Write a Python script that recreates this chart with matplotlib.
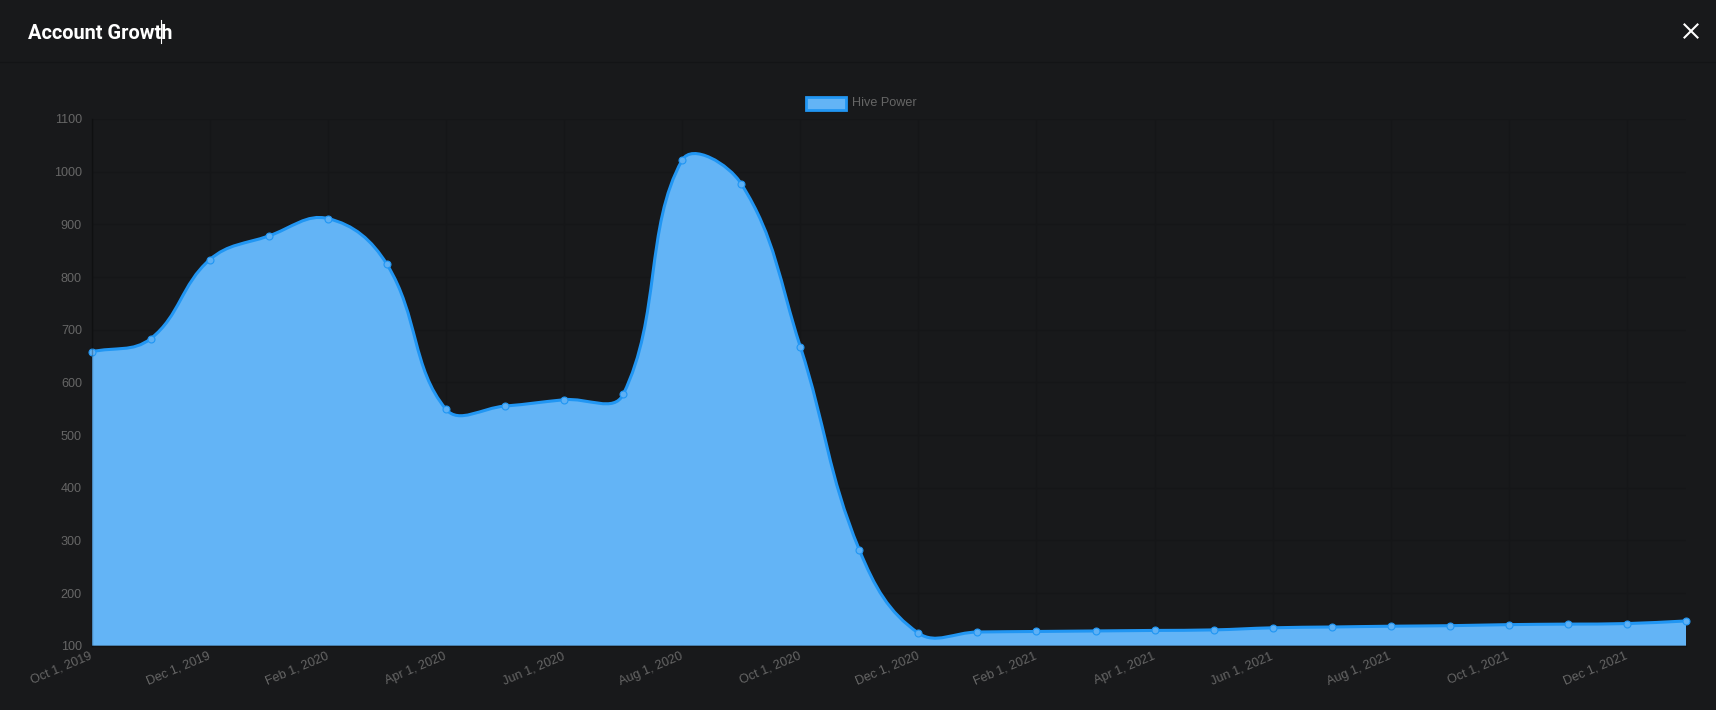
import numpy as np
import matplotlib
matplotlib.use("Agg")
import matplotlib.pyplot as plt
from matplotlib.path import Path
from matplotlib.patches import PathPatch, Rectangle
from matplotlib.lines import Line2D

# ---------------- data ----------------
months = ["Oct 1, 2019", "Nov 1, 2019", "Dec 1, 2019", "Jan 1, 2020", "Feb 1, 2020",
          "Mar 1, 2020", "Apr 1, 2020", "May 1, 2020", "Jun 1, 2020", "Jul 1, 2020",
          "Aug 1, 2020", "Sep 1, 2020", "Oct 1, 2020", "Nov 1, 2020", "Dec 1, 2020",
          "Jan 1, 2021", "Feb 1, 2021", "Mar 1, 2021", "Apr 1, 2021", "May 1, 2021",
          "Jun 1, 2021", "Jul 1, 2021", "Aug 1, 2021", "Sep 1, 2021", "Oct 1, 2021",
          "Nov 1, 2021", "Dec 1, 2021", "Jan 1, 2022"]
hive_power = [658, 683, 833, 878, 911, 824, 549, 555, 567, 577,
              1022, 977, 668, 282, 124, 126, 127, 128, 129, 130,
              134, 135.5, 137, 138, 140, 141, 142, 147]
y_ticks = [100, 200, 300, 400, 500, 600, 700, 800, 900, 1000, 1100]
series_label = "Hive Power"
title = "Account Growth"

# ---------------- style ----------------
BG = "#18191b"
GRID = "#151618"
TICK_COLOR = "#666666"
FILL = "#63b4f6"
LINE = "#2196f3"
W, H = 1716, 710

plt.rcParams["font.family"] = ["Liberation Sans", "DejaVu Sans"]

fig = plt.figure(figsize=(W / 100, H / 100), dpi=100, facecolor=BG)
left_px, right_px, top_px, bottom_px = 91.7, 1686.0, 119.0, 645.7
ax = fig.add_axes([left_px / W, 1 - bottom_px / H,
                   (right_px - left_px) / W, (bottom_px - top_px) / H])
ax.set_facecolor(BG)

x = np.arange(len(months))
y = np.array(hive_power, dtype=float)
ax.set_xlim(0, len(months) - 1)
ax.set_ylim(y_ticks[0], y_ticks[-1])

# grid
ax.set_yticks(y_ticks)
ax.set_xticks(x[::2])
ax.set_xticklabels(months[::2])
ax.grid(True, color=GRID, linewidth=1)
ax.set_axisbelow(True)
for s in ["top", "right"]:
    ax.spines[s].set_visible(False)
for s in ["left", "bottom"]:
    ax.spines[s].set_color((0, 0, 0, 0.25))
    ax.spines[s].set_linewidth(1)
    ax.spines[s].set_zorder(5)

ax.tick_params(axis="both", length=0, colors=TICK_COLOR, labelsize=9.1)
ax.tick_params(axis="y", pad=7)
ax.tick_params(axis="x", pad=7.2)
for lab in ax.get_xticklabels():
    lab.set_rotation(23)
    lab.set_ha("right")
    lab.set_va("center")
    lab.set_rotation_mode("anchor")

# ---- Chart.js-like bezier (tension 0.4) computed in pixel space ----
fig.canvas.draw()
pts = ax.transData.transform(np.column_stack([x, y]))
px, py = pts[:, 0], pts[:, 1]
bb = ax.get_window_extent()
n = len(px)
t = 0.4
cp_prev = np.zeros((n, 2))
cp_next = np.zeros((n, 2))
for i in range(n):
    p = max(i - 1, 0)
    q = min(i + 1, n - 1)
    d01 = np.hypot(px[i] - px[p], py[i] - py[p])
    d12 = np.hypot(px[q] - px[i], py[q] - py[i])
    tot = d01 + d12
    s01 = d01 / tot if tot else 0
    s12 = d12 / tot if tot else 0
    fa, fb = t * s01, t * s12
    cp_prev[i] = [px[i] - fa * (px[q] - px[p]), py[i] - fa * (py[q] - py[p])]
    cp_next[i] = [px[i] + fb * (px[q] - px[p]), py[i] + fb * (py[q] - py[p])]
for arr in (cp_prev, cp_next):
    arr[:, 0] = np.clip(arr[:, 0], bb.x0, bb.x1)
    arr[:, 1] = np.clip(arr[:, 1], bb.y0, bb.y1)

inv = ax.transData.inverted()
verts = [(x[0], y[0])]
codes = [Path.MOVETO]
for i in range(n - 1):
    c1 = inv.transform(cp_next[i])
    c2 = inv.transform(cp_prev[i + 1])
    verts += [tuple(c1), tuple(c2), (x[i + 1], y[i + 1])]
    codes += [Path.CURVE4] * 3

line_path = Path(verts, codes)
fill_verts = [(x[0], y_ticks[0])] + verts + [(x[-1], y_ticks[0]), (x[0], y_ticks[0])]
fill_codes = [Path.MOVETO, Path.LINETO] + codes[1:] + [Path.LINETO, Path.CLOSEPOLY]
ax.add_patch(PathPatch(Path(fill_verts, fill_codes), facecolor=FILL, edgecolor="none", zorder=2))
ax.add_patch(PathPatch(line_path, facecolor="none", edgecolor=LINE, linewidth=2.2, zorder=3,
                       capstyle="round", joinstyle="round"))
ax.plot(x, y, linestyle="none", marker="o", markersize=5, markerfacecolor="#5db0f5",
        markeredgecolor=LINE, markeredgewidth=0.8, zorder=4, clip_on=False)

# ---------------- header ----------------
fig.text(28 / W, 1 - 39.3 / H, title, color="white", fontsize=14.4, fontweight="bold",
         family=["Roboto", "DejaVu Sans"], ha="left", va="baseline")
fig.add_artist(Line2D([160.7 / W, 160.7 / W], [1 - 20 / H, 1 - 43 / H], color="white", linewidth=0.8))
fig.add_artist(Line2D([0, 1], [1 - 62.3 / H, 1 - 62.3 / H], color="#131416", linewidth=1))
cx, cy, r = 1691.0, 31.0, 6.5
fig.add_artist(Line2D([(cx - r) / W, (cx + r) / W], [1 - (cy - r) / H, 1 - (cy + r) / H], color="white", linewidth=1.5))
fig.add_artist(Line2D([(cx - r) / W, (cx + r) / W], [1 - (cy + r) / H, 1 - (cy - r) / H], color="white", linewidth=1.5))

# ---------------- legend ----------------
fig.add_artist(Rectangle((806 / W, 1 - 110 / H), 40 / W, 13 / H, facecolor=FILL,
                         edgecolor=LINE, linewidth=2, transform=fig.transFigure))
fig.text(852.5 / W, 1 - 102.5 / H, series_label, color=TICK_COLOR, fontsize=9.1,
         ha="left", va="center")

fig.savefig("out.png", dpi=100, facecolor=BG)
